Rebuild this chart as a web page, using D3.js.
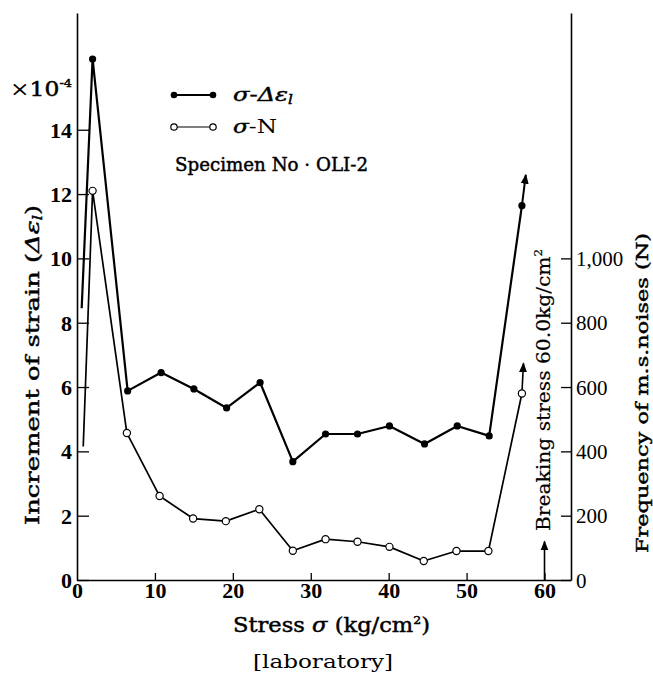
<!DOCTYPE html>
<html>
<head>
<meta charset="utf-8">
<script src="https://cdn.jsdelivr.net/npm/d3@7"></script>
<style>
  body { margin: 0; background: #fff; }
  svg { display: block; }
</style>
</head>
<body>
<script>
// stress (kg/cm2) vs increment of strain (x1e-4)
const strainX = [0.6, 2.0, 6.5, 10.8, 15.0, 19.2, 23.5, 27.7, 31.9, 36.0, 40.1, 44.6, 48.8, 52.9, 57.1]
const strainY = [8.45, 16.2, 5.88, 6.45, 5.94, 5.35, 6.14, 3.68, 4.54, 4.54, 4.79, 4.23, 4.79, 4.48, 11.64]
const strainMarked = [false, true, true, true, true, true, true, true, true, true, true, true, true, true, true]
const strainArrow = [57.6, 12.6]

// stress vs frequency of m.s. noises (N, right axis)
const noiseX = [0.8, 2.0, 6.4, 10.6, 14.9, 19.1, 23.4, 27.7, 31.9, 36.0, 40.1, 44.5, 48.7, 52.8, 57.1]
const noiseN = [415, 1210, 457, 261, 191, 183, 220, 91, 127, 119, 103, 59, 90, 90, 580]
const noiseMarked = [false, true, true, true, true, true, true, true, true, true, true, true, true, true, true]
const noiseArrow = [57.3, 674]

const breakStress = 60
const breakArrowTop = 120

const xTicks = [0, 10, 20, 30, 40, 50, 60]
const leftTicks = [0, 2, 4, 6, 8, 10, 12, 14]
const rightTicks = [0, 200, 400, 600, 800, 1000]

const width = 653, height = 691
const mLeft = 77, mRight = 571, mBottom = 580, mTop = 13

const tickFont = "'Liberation Serif', 'Times New Roman', serif"
const labelFont = "'DejaVu Serif', serif"

const x = d3.scaleLinear().domain([0, 63.4]).range([mLeft, mRight])
const y = d3.scaleLinear().domain([0, 17.63]).range([mBottom, mTop])
const yN = d3.scaleLinear().domain([0, 1763]).range([mBottom, mTop])

const svg = d3.select('body').append('svg')
  .attr('width', width)
  .attr('height', height)
  .attr('font-family', labelFont)

svg.append('defs').append('marker')
  .attr('id', 'arrow')
  .attr('viewBox', '0 0 10 10')
  .attr('refX', 9)
  .attr('refY', 5)
  .attr('markerWidth', 10)
  .attr('markerHeight', 12)
  .attr('markerUnits', 'userSpaceOnUse')
  .attr('orient', 'auto')
  .append('path')
  .attr('d', 'M0,1 L10,5 L0,9 Z')
  .attr('fill', '#000')

// axes
const styleAxis = g => {
  g.select('.domain').attr('stroke', '#000').attr('stroke-width', 1.6)
  g.selectAll('.tick line').attr('stroke', '#000').attr('stroke-width', 1.3)
  g.selectAll('.tick text')
    .attr('fill', '#000')
    .attr('font-family', tickFont)
    .attr('font-weight', 'bold')
    .attr('font-size', 22)
}

svg.append('g')
  .attr('transform', `translate(0,${mBottom})`)
  .call(d3.axisBottom(x).tickValues(xTicks).tickSizeInner(-7).tickSizeOuter(0).tickPadding(2))
  .call(styleAxis)
  .call(g => g.select('.tick line').remove())

svg.append('g')
  .attr('transform', `translate(${mLeft},0)`)
  .call(d3.axisLeft(y).tickValues(leftTicks).tickSizeInner(-12).tickSizeOuter(0).tickPadding(5))
  .call(styleAxis)
  .call(g => g.selectAll('.tick text').attr('dy', '0.34em'))

svg.append('g')
  .attr('transform', `translate(${mRight},0)`)
  .call(d3.axisRight(yN).tickValues(rightTicks).tickFormat(d3.format(',')).tickSizeInner(-10).tickSizeOuter(0).tickPadding(5))
  .call(styleAxis)
  .call(g => g.selectAll('.tick text').attr('font-weight', 'normal').attr('font-size', 21).attr('dy', '0.34em'))

// series
const line = d3.line()

const strainPts = strainX.map((v, i) => [x(v), y(strainY[i])])
const noisePts = noiseX.map((v, i) => [x(v), yN(noiseN[i])])

svg.append('path')
  .attr('d', line(strainPts))
  .attr('fill', 'none')
  .attr('stroke', '#000')
  .attr('stroke-width', 2.2)
  .attr('stroke-linejoin', 'round')

svg.append('path')
  .attr('d', line([strainPts[strainPts.length - 1], [x(strainArrow[0]), y(strainArrow[1])]]))
  .attr('stroke', '#000')
  .attr('stroke-width', 2)
  .attr('marker-end', 'url(#arrow)')

svg.append('path')
  .attr('d', line(noisePts))
  .attr('fill', 'none')
  .attr('stroke', '#000')
  .attr('stroke-width', 1.7)
  .attr('stroke-linejoin', 'round')

svg.append('path')
  .attr('d', line([noisePts[noisePts.length - 1], [x(noiseArrow[0]), yN(noiseArrow[1])]]))
  .attr('stroke', '#000')
  .attr('stroke-width', 1.6)
  .attr('marker-end', 'url(#arrow)')

svg.append('g')
  .selectAll('circle')
  .data(strainPts.filter((d, i) => strainMarked[i]))
  .join('circle')
  .attr('cx', d => d[0])
  .attr('cy', d => d[1])
  .attr('r', 3.6)
  .attr('fill', '#000')

svg.append('g')
  .selectAll('circle')
  .data(noisePts.filter((d, i) => noiseMarked[i]))
  .join('circle')
  .attr('cx', d => d[0])
  .attr('cy', d => d[1])
  .attr('r', 3.6)
  .attr('fill', '#fff')
  .attr('stroke', '#000')
  .attr('stroke-width', 1.2)

// breaking stress arrow
svg.append('path')
  .attr('d', line([[x(breakStress), yN(0)], [x(breakStress), yN(breakArrowTop)]]))
  .attr('stroke', '#000')
  .attr('stroke-width', 1.6)
  .attr('marker-end', 'url(#arrow)')

// text helper: heavier print look and fixed width
const label = (sel, len) => sel
  .attr('fill', '#000')
  .attr('stroke', '#000')
  .attr('stroke-width', 0.45)
  .attr('textLength', len)
  .attr('lengthAdjust', 'spacingAndGlyphs')

// legend
const legend = svg.append('g')
legend.append('line').attr('x1', 174).attr('x2', 213).attr('y1', 95).attr('y2', 95)
  .attr('stroke', '#000').attr('stroke-width', 2.2)
legend.selectAll('.fdot').data([174, 213]).join('circle')
  .attr('cx', d => d).attr('cy', 95).attr('r', 3.3).attr('fill', '#000')
legend.append('line').attr('x1', 174).attr('x2', 213).attr('y1', 127).attr('y2', 127)
  .attr('stroke', '#000').attr('stroke-width', 1.2)
legend.selectAll('.odot').data([174, 213]).join('circle')
  .attr('cx', d => d).attr('cy', 127).attr('r', 3.2)
  .attr('fill', '#fff').attr('stroke', '#000').attr('stroke-width', 1.2)

const t1 = legend.append('text').attr('x', 233).attr('y', 101).attr('font-size', 19).call(label, 60)
t1.append('tspan').attr('font-style', 'italic').text('σ')
t1.append('tspan').text('-')
t1.append('tspan').attr('font-style', 'italic').text('Δε')
t1.append('tspan').attr('font-style', 'italic').attr('font-size', 12).attr('dy', 3).text('l')

const t2 = legend.append('text').attr('x', 233).attr('y', 133).attr('font-size', 19).call(label, 44)
t2.append('tspan').attr('font-style', 'italic').text('σ')
t2.append('tspan').attr('stroke-width', 0).text('-N')

legend.append('text').attr('x', 175).attr('y', 171).attr('font-size', 18)
  .call(label, 193).text('Specimen No · OLI-2')

// scale note
const sc = svg.append('text').attr('x', 10).attr('y', 96).attr('font-size', 20).call(label, 62)
sc.append('tspan').attr('stroke-width', 0).text('×')
sc.append('tspan').text('10')
sc.append('tspan').attr('font-size', 11).attr('dy', -9).text('-4')

// axis titles
const xt = svg.append('text').attr('x', 233).attr('y', 632)
  .attr('font-size', 20).call(label, 197)
xt.append('tspan').text('Stress ')
xt.append('tspan').attr('font-style', 'italic').text('σ')
xt.append('tspan').text(' (kg/cm')
xt.append('tspan').attr('font-size', 11).attr('dy', -8).text('2')
xt.append('tspan').attr('dy', 8).text(')')

svg.append('text').attr('x', 253).attr('y', 668)
  .attr('font-size', 19).call(label, 140).attr('stroke-width', 0).text('[laboratory]')

const yt = svg.append('text').attr('transform', 'translate(39,525) rotate(-90)')
  .attr('font-size', 19).call(label, 320)
yt.append('tspan').text('Increment of strain (')
yt.append('tspan').attr('font-style', 'italic').text('Δε')
yt.append('tspan').attr('font-style', 'italic').attr('font-size', 12).attr('dy', 3).text('l')
yt.append('tspan').attr('dy', -3).text(')')

const bt = svg.append('text').attr('transform', 'translate(550,531) rotate(-90)')
  .attr('font-size', 19).call(label, 282).attr('stroke-width', 0.2)
bt.append('tspan').text('Breaking stress 60.0kg/cm')
bt.append('tspan').attr('font-size', 11).attr('dy', -8).text('2')

svg.append('text').attr('transform', 'translate(648,553) rotate(-90)')
  .attr('font-size', 17).call(label, 320)
  .text('Frequency of m.s.noises (N)')
</script>
</body>
</html>
